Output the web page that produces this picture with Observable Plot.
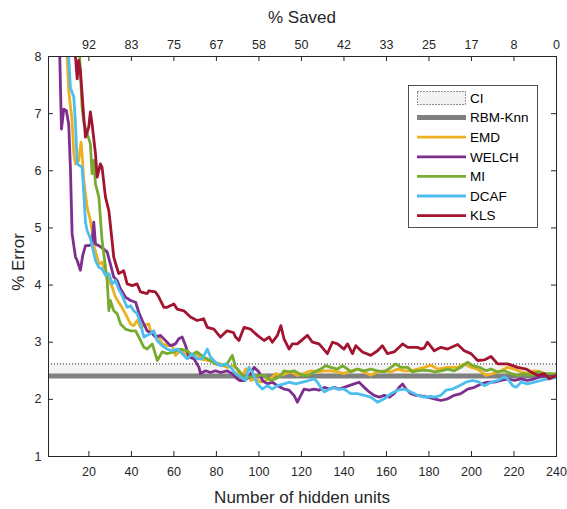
<!DOCTYPE html>
<html><head><meta charset="utf-8">
<script src="https://cdn.jsdelivr.net/npm/d3@7"></script>
<script src="https://cdn.jsdelivr.net/npm/@observablehq/plot@0.6"></script>
<style>body{margin:0;background:#fff}</style>
</head><body><div id="chart"></div>
<script>
// ---- data ----
const xTicks = [20, 40, 60, 80, 100, 120, 140, 160, 180, 200, 220, 240];
const savedLabels = ["92", "83", "75", "67", "58", "50", "42", "33", "25", "17", "8", "0"];
const yTicks = [1, 2, 3, 4, 5, 6, 7, 8];
const rbmKnn = 2.41;
const ciLow = 2.41, ciHigh = 2.62;
const seriesNames = ["EMD", "WELCH", "MI", "DCAF", "KLS"];
const seriesColors = ["#EDB120", "#7E2F8E", "#77AC30", "#4DBEEE", "#A2142F"];
const legendNames = ["CI", "RBM-Knn", "EMD", "WELCH", "MI", "DCAF", "KLS"];

const EMD = [[1,30],[8.5,11],[9.7,8.05],[10.5,7.4],[12.1,6.88],[12.9,6.3],[13.7,6.12],[15.2,6.18],[16.3,6.5],[16.8,6.3],[17.6,5.83],[19.2,5.36],[20.7,5.13],[21.5,4.95],[22.3,4.7],[24.7,4.37],[26.2,4.4],[27.8,4.2],[29.4,4.08],[31,3.96],[32.5,3.79],[34,3.7],[35.6,3.61],[38,3.44],[39.6,3.32],[41.1,3.29],[42.7,3.38],[44.3,3.26],[45.9,3.29],[48.2,3.32],[49,3.2],[51.3,3.12],[52.9,3.09],[54.5,2.97],[56.8,2.94],[59.2,2.94],[60.7,2.77],[63.1,2.85],[65.5,2.8],[67.8,2.74],[70.2,2.83],[72.5,2.71],[75.7,2.68],[78.8,2.65],[81.9,2.62],[85,2.56],[88,2.59],[89.8,2.53],[91.4,2.36],[93.8,2.53],[96.1,2.33],[98.5,2.36],[100.8,2.3],[103.2,2.33],[105.5,2.36],[107.9,2.45],[110.3,2.42],[112.6,2.45],[115,2.48],[118.1,2.42],[121.2,2.45],[124.4,2.5],[127.5,2.48],[130.7,2.5],[133.8,2.5],[137,2.48],[140.1,2.45],[143.2,2.5],[146.4,2.53],[149.5,2.48],[152.6,2.42],[155.8,2.48],[159,2.5],[162.1,2.48],[165.2,2.53],[168.4,2.5],[171.5,2.5],[174.6,2.53],[177.8,2.56],[180.9,2.6],[184,2.53],[188.8,2.56],[193.5,2.56],[196.6,2.62],[199.8,2.56],[202.9,2.53],[206.8,2.42],[210,2.45],[213.9,2.5],[217,2.56],[220.2,2.53],[223.3,2.48],[226.4,2.45],[229.6,2.5],[232.7,2.48],[235.9,2.42],[240,2.45]];

const WELCH = [[1,30],[5.5,10],[6.3,7.99],[7.1,6.73],[8.2,7.08],[9.4,7.05],[10.5,6.82],[11.3,6.06],[12.1,4.9],[13.7,4.49],[14.5,4.43],[16,4.26],[17.1,4.52],[18.4,4.69],[19.9,4.69],[21.5,4.72],[22.3,5.1],[23.1,4.72],[24.7,4.69],[27,4.63],[28.6,4.58],[30.1,4.37],[31.7,4.14],[33.3,4.08],[34.9,3.93],[37.2,3.79],[39.6,3.73],[42,3.7],[43.5,3.52],[45.1,3.38],[47.4,3.2],[49.8,3.15],[51.3,3.09],[53.7,3.12],[56,3.03],[58.4,2.94],[60.7,2.97],[62.3,3.06],[63.9,3.09],[65.5,2.94],[67.1,2.74],[69.4,2.71],[71.8,2.56],[72.5,2.45],[74.9,2.5],[77.2,2.47],[79.6,2.5],[81.9,2.47],[85,2.5],[87.4,2.45],[89.8,2.36],[91,2.33],[93,2.33],[95.3,2.39],[97.7,2.56],[100,2.48],[101.6,2.33],[104,2.27],[106.3,2.3],[108.7,2.24],[111.8,2.18],[114.2,2.16],[116.5,2.07],[118.1,1.95],[119.7,2.07],[121.2,2.18],[123.6,2.16],[126,2.18],[128.3,2.16],[130.7,2.21],[133,2.18],[135.4,2.21],[137.7,2.18],[140.1,2.21],[142.4,2.24],[144.8,2.27],[147.1,2.3],[149.5,2.21],[151.9,2.13],[154.2,2.07],[156.6,2.04],[159,2.07],[161.4,2.04],[163.6,2.1],[166,2.21],[167.6,2.27],[169.2,2.18],[171.5,2.1],[173.9,2.07],[176.2,2.06],[179.3,2.04],[182.5,2.01],[185.6,1.98],[188.8,2.01],[191.9,2.07],[195,2.1],[198.2,2.18],[201.4,2.21],[204.5,2.27],[207.6,2.3],[210.7,2.3],[213.9,2.33],[217,2.36],[220.2,2.33],[223.3,2.36],[226.4,2.33],[229.6,2.36],[232.7,2.4],[235.9,2.42],[240,2.44]];

const MI = [[1,30],[14.5,9],[15.5,8.1],[16.3,7.5],[16.8,7.11],[17.6,6.85],[19.2,6.65],[20.7,6.47],[21.5,5.95],[22.3,6.18],[23.1,5.77],[24.7,5.54],[26.2,4.78],[27,4.55],[28.6,4.08],[29.4,3.55],[30.1,3.73],[31.7,3.55],[33.3,3.5],[34.9,3.32],[37.2,3.23],[39.6,3.2],[42,3.2],[44.3,3.03],[45.9,2.91],[47.4,2.88],[49.8,2.97],[52.2,2.68],[54.5,2.83],[56.8,2.8],[60,2.83],[63.1,2.88],[66.3,2.85],[68.6,2.77],[70.9,2.83],[74,2.74],[77.2,2.68],[79.6,2.62],[82.7,2.59],[85,2.62],[87.5,2.77],[89,2.56],[90.6,2.5],[93,2.39],[96.1,2.39],[99.3,2.42],[102.4,2.42],[105.5,2.33],[107.9,2.36],[110.3,2.42],[111.8,2.5],[114.2,2.48],[116.5,2.5],[118.9,2.45],[121.2,2.42],[123.6,2.42],[126,2.48],[129.1,2.53],[131.4,2.59],[133.8,2.56],[137,2.53],[139.3,2.59],[141.7,2.53],[143.2,2.48],[146.4,2.53],[149.5,2.5],[152.6,2.53],[155.8,2.5],[159,2.48],[162.1,2.56],[164.4,2.62],[166.8,2.56],[170,2.56],[172.3,2.48],[174.6,2.5],[177.8,2.51],[180.9,2.5],[182.5,2.48],[185.6,2.5],[188.8,2.53],[191.9,2.5],[195,2.56],[198.2,2.65],[200.5,2.59],[203.7,2.56],[206.8,2.5],[209.2,2.53],[212.3,2.48],[215.4,2.5],[218.6,2.45],[221.7,2.42],[224.9,2.45],[228,2.42],[231.2,2.48],[234.3,2.45],[237.4,2.45],[240,2.44]];

const DCAF = [[1,30],[9.5,9],[10.5,7.99],[11.3,7.46],[12.9,7.29],[13.7,6.82],[14.5,6.12],[16.8,6.06],[17.6,5.6],[18.4,5.1],[19.2,4.95],[20.5,4.84],[21.5,4.69],[23.1,4.43],[24.7,4.31],[26.2,4.28],[27.8,4.17],[29.4,4.2],[31,4.02],[32.5,4.08],[34,3.93],[35.6,3.82],[38,3.61],[39.6,3.64],[41.1,3.55],[42.7,3.5],[44.3,3.32],[45.9,3.09],[47.4,3.12],[49,3.15],[50.5,3.2],[52.1,3.03],[54.5,2.94],[56.8,2.88],[59.2,2.85],[61.5,2.88],[63.9,2.8],[66.3,2.71],[68.6,2.8],[70.9,2.71],[73.3,2.71],[75.7,2.88],[77.2,2.74],[79.6,2.65],[81.9,2.59],[84.3,2.62],[86.7,2.56],[89,2.45],[91.4,2.39],[93.8,2.33],[95.3,2.56],[96.9,2.48],[99.3,2.27],[101.6,2.18],[104,2.24],[106.3,2.18],[108.7,2.24],[111.8,2.27],[114.2,2.3],[117.3,2.27],[120.5,2.3],[123.6,2.33],[126,2.36],[127.5,2.3],[129.1,2.21],[130.7,2.13],[132.2,2.16],[134.6,2.21],[137,2.18],[140.1,2.18],[143.2,2.1],[146.4,2.1],[149.5,2.07],[152.6,2.04],[155.8,1.95],[159,2.01],[162.1,2.1],[165.2,2.16],[168.4,2.18],[171.5,2.13],[174.6,2.07],[177.8,2.04],[180.9,2.05],[182.5,2.04],[185.6,2.07],[188,2.16],[191.1,2.18],[194.3,2.24],[197.4,2.3],[200.5,2.33],[203.7,2.3],[206,2.24],[209.2,2.3],[212.3,2.33],[215.4,2.39],[217,2.36],[219.4,2.24],[221,2.21],[223.3,2.3],[226.4,2.27],[229.6,2.3],[232.7,2.33],[235.9,2.36],[240,2.38]];

const KLS = [[1,30],[12.5,9],[13.7,7.99],[14.5,7.61],[15.2,7.93],[16,7.75],[17.6,6.94],[18.4,6.59],[19.9,6.76],[20.7,7.03],[21.5,6.82],[23.1,6.3],[23.9,5.89],[25.4,6.12],[26.2,6.06],[27.8,5.54],[29.4,5.3],[30.9,4.78],[31.7,4.49],[34,4.2],[36.4,4.25],[38,4.02],[40.4,3.99],[42.7,4.02],[44.3,3.88],[47.4,3.85],[48.2,3.9],[51.3,3.88],[52.9,3.79],[55.3,3.61],[56.8,3.61],[60,3.67],[61.5,3.58],[64.7,3.55],[67.8,3.44],[70.9,3.38],[74,3.41],[75.7,3.26],[78.8,3.23],[81.9,3.09],[85,3.2],[88,3.17],[89,3.09],[90.6,3.03],[93,3.26],[96,3.23],[99.3,3.12],[102.4,3.03],[104.8,3.09],[106.3,3.0],[108.7,3.12],[110.3,3.29],[111.8,3.06],[114.2,2.88],[115.7,2.97],[118.1,2.97],[122.8,3.12],[125.2,3.0],[128.3,2.97],[132.2,2.8],[134.6,3.0],[137,2.97],[140,2.88],[141.7,2.97],[144,2.8],[145.6,2.94],[148.7,2.83],[152.6,2.77],[155.8,2.85],[158.1,2.94],[160.5,2.8],[163.6,2.83],[167.6,2.97],[170,2.91],[174.6,2.91],[176.2,2.88],[177.8,2.9],[179.3,3.0],[182.5,2.85],[185.6,2.91],[188.8,2.88],[193.5,2.96],[196.6,2.85],[199.8,2.8],[202.9,2.68],[206,2.69],[209.2,2.75],[212.3,2.62],[217,2.62],[221.7,2.56],[225.7,2.53],[228,2.48],[231.2,2.42],[234.3,2.45],[236.6,2.36],[240,2.42]];

const seriesData = [EMD, WELCH, MI, DCAF, KLS];

// ---- layout ----
const W = 567, H = 509, mL = 48, mR = 11, mT = 56, mB = 53;
const fw = W - mL - mR, fh = H - mT - mB;
const FONT = '"Liberation Sans", Arial, Helvetica, sans-serif';
const AX = "#262626";

const plot = Plot.plot({
  width: W, height: H,
  marginLeft: mL, marginRight: mR, marginTop: mT, marginBottom: mB,
  style: {fontFamily: FONT, fontSize: "12.5px", color: AX, background: "#fff"},
  x: {domain: [1, 240]},
  y: {domain: [1, 8]},
  marks: [
    Plot.rect([{x1: 1, x2: 240, y1: ciLow, y2: ciHigh}], {x1: "x1", x2: "x2", y1: "y1", y2: "y2", fill: "#f3f3f3"}),
    Plot.ruleY([ciHigh], {stroke: AX, strokeWidth: 1, strokeDasharray: "1,2"}),
    Plot.ruleY([rbmKnn], {stroke: "#808080", strokeWidth: 5}),
    ...seriesData.map((s, i) => Plot.line(s, {
      x: d => d[0], y: d => d[1], stroke: seriesColors[i],
      strokeWidth: 2.8, strokeLinejoin: "round", clip: true
    })),
    Plot.frame({stroke: AX, strokeWidth: 1}),
    Plot.tickX(xTicks, {x: d => d, insetTop: fh - 5, stroke: AX}),
    Plot.tickX(xTicks, {x: d => d, insetBottom: fh - 5, stroke: AX}),
    Plot.tickY(yTicks, {y: d => d, insetRight: fw - 5, stroke: AX}),
    Plot.tickY(yTicks, {y: d => d, insetLeft: fw - 5, stroke: AX}),
    Plot.axisX(xTicks, {anchor: "bottom", tickSize: 0, tickPadding: 11, label: null, tickFormat: d => String(d)}),
    Plot.axisX(xTicks, {anchor: "top", tickSize: 0, tickPadding: 8, label: null,
      tickFormat: d => savedLabels[xTicks.indexOf(d)]}),
    Plot.axisY(yTicks, {anchor: "left", tickSize: 0, tickPadding: 7, label: null, tickFormat: d => String(d)})
  ]
});
document.getElementById("chart").appendChild(plot);

// ---- titles & legend ----
const svg = d3.select(plot);
const cx = mL + fw / 2;
svg.append("text").text("% Saved").attr("x", cx).attr("y", 23)
  .attr("text-anchor", "middle").attr("font-family", FONT).attr("font-size", 17).attr("fill", AX);
svg.append("text").text("Number of hidden units").attr("x", cx).attr("y", 503)
  .attr("text-anchor", "middle").attr("font-family", FONT).attr("font-size", 17).attr("fill", AX);
svg.append("text").text("% Error").attr("transform", `translate(24,${mT + fh / 2 + 6}) rotate(-90)`)
  .attr("text-anchor", "middle").attr("font-family", FONT).attr("font-size", 17).attr("fill", AX);

const lg = svg.append("g").attr("font-family", FONT).attr("font-size", 13.5).attr("fill", "#000")
  .attr("text-anchor", "start");
lg.append("rect").attr("x", 408.5).attr("y", 85.5).attr("width", 129).attr("height", 142)
  .attr("fill", "#fff").attr("stroke", AX).attr("stroke-width", 0.8);
const legendColors = [null, "#808080", ...seriesColors];
legendNames.forEach((name, i) => {
  const y = 98 + i * 19.6;
  if (i === 0) {
    lg.append("rect").attr("x", 417.5).attr("y", y - 6.5).attr("width", 48).attr("height", 13)
      .attr("fill", "#f3f3f3").attr("stroke", AX).attr("stroke-width", 1).attr("stroke-dasharray", "1,2");
  } else {
    lg.append("line").attr("x1", 417).attr("x2", 466).attr("y1", y).attr("y2", y)
      .attr("stroke", legendColors[i]).attr("stroke-width", i === 1 ? 5 : 2.8);
  }
  lg.append("text").text(name).attr("x", 470).attr("y", y).attr("dy", "0.35em").attr("text-anchor", "start");
});
</script>
</body></html>
